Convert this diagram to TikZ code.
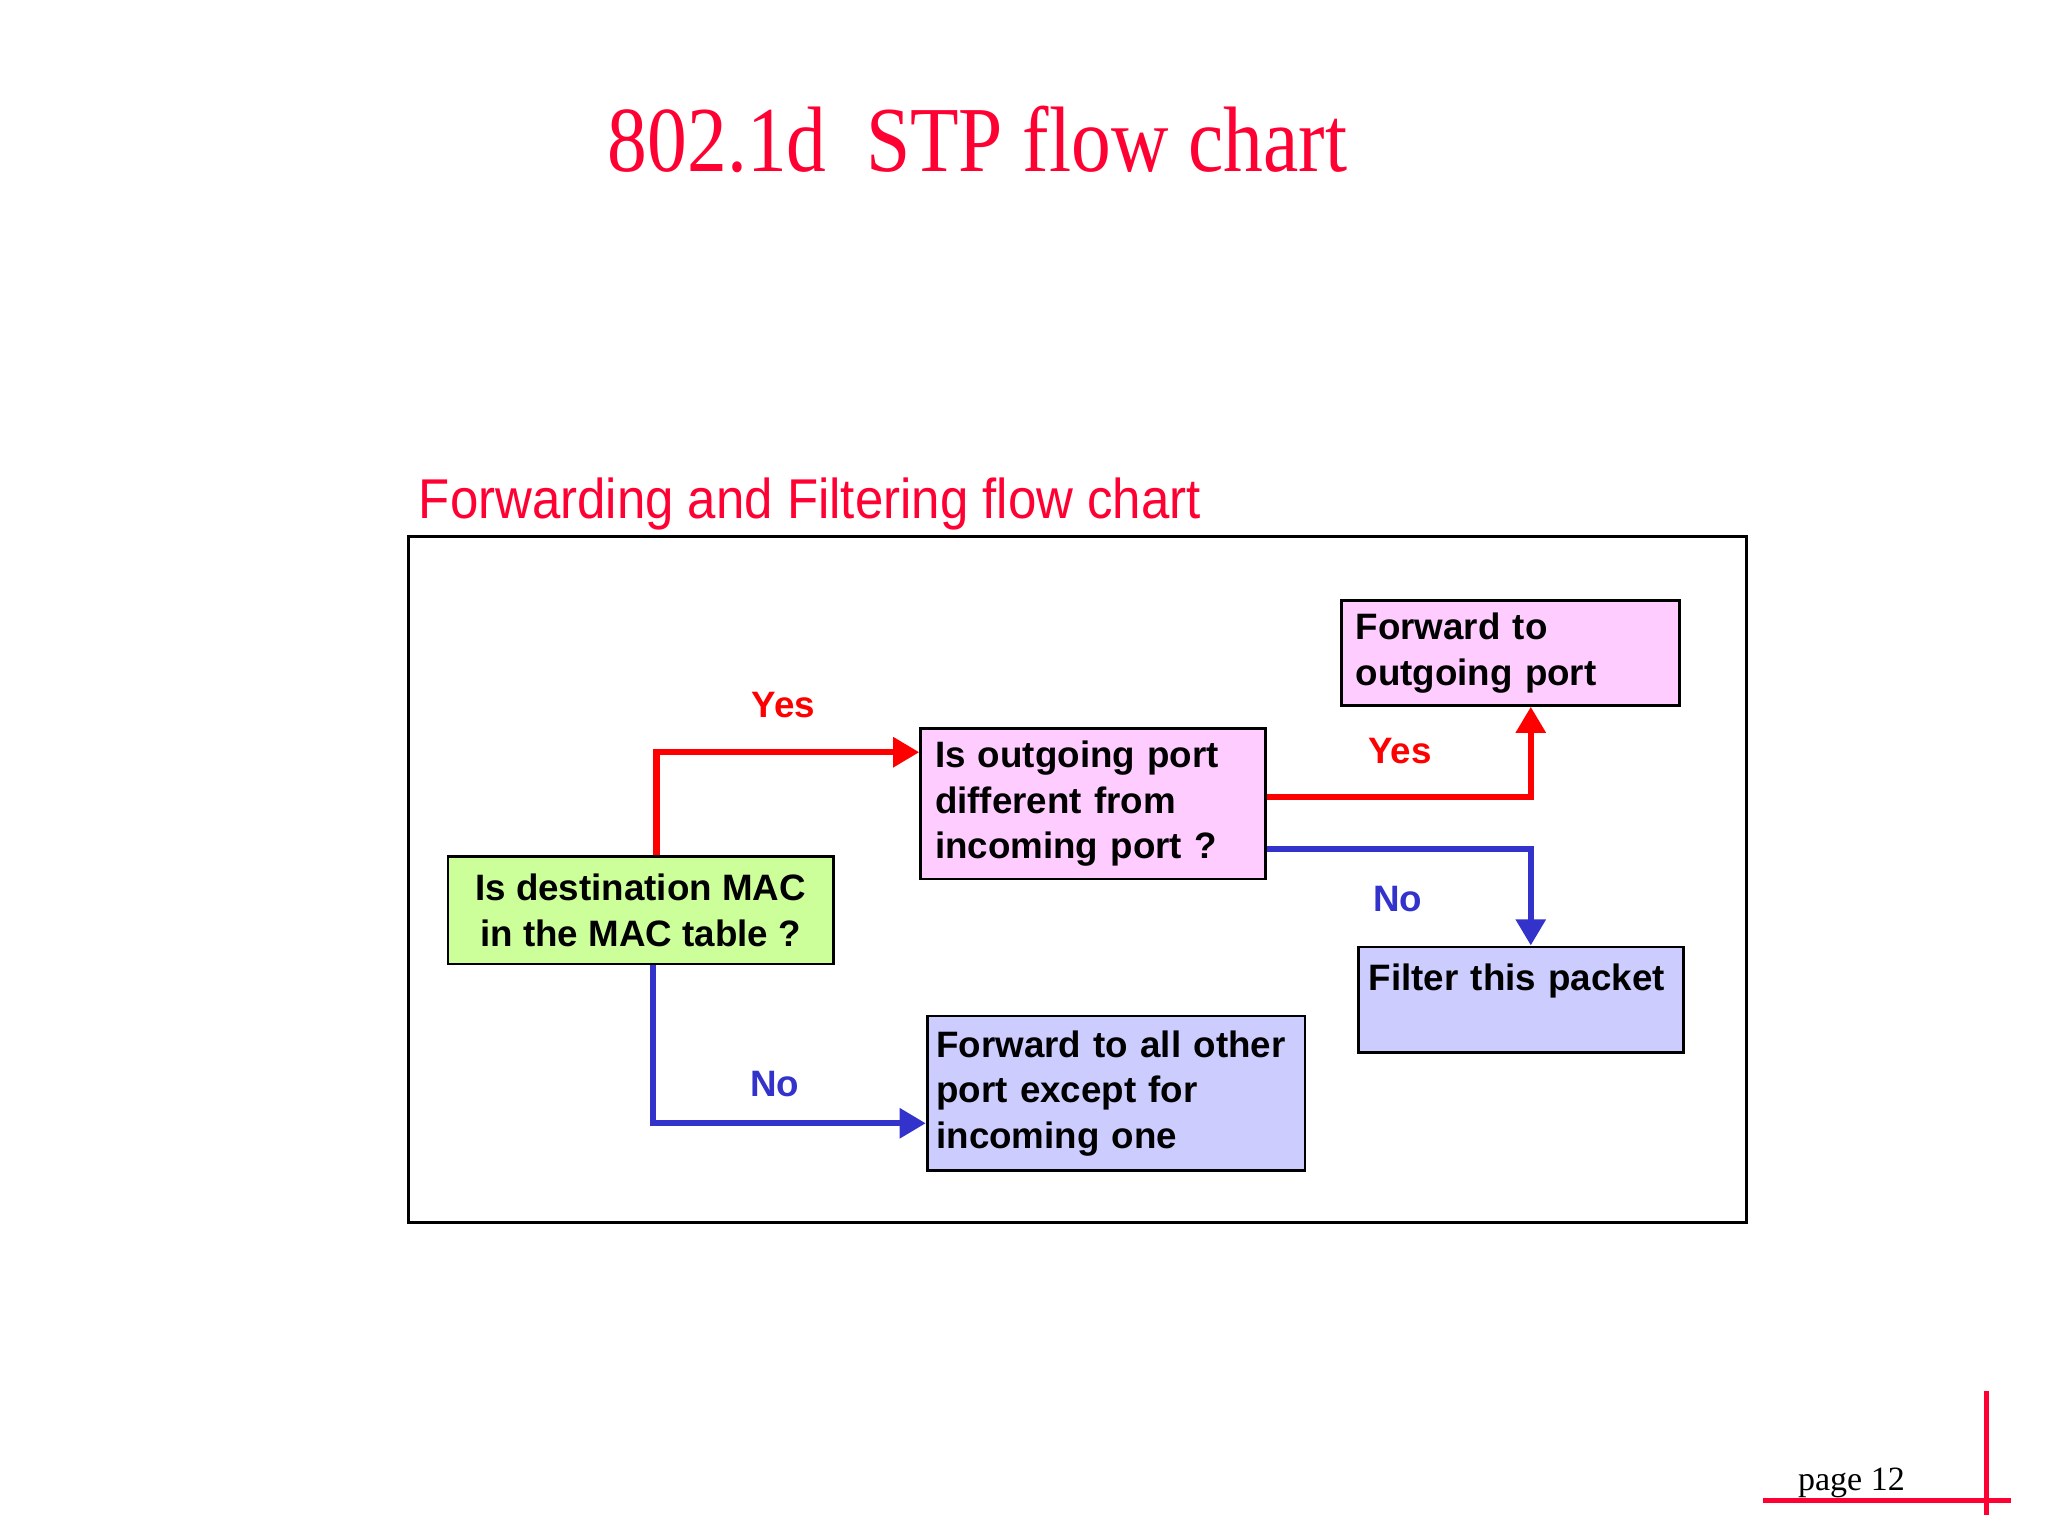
\documentclass[tikz,border=0pt]{standalone}
\usepackage{fontspec}
\setmainfont{Liberation Serif}
\setsansfont{Liberation Sans}
\usetikzlibrary{arrows.meta,calc}

\definecolor{titlered}{RGB}{255,0,51}
\definecolor{yesred}{RGB}{255,0,0}
\definecolor{noblue}{RGB}{51,51,204}
\definecolor{askgreen}{RGB}{204,255,153}
\definecolor{askpink}{RGB}{255,204,255}
\definecolor{actblue}{RGB}{204,204,255}

\tikzset{
  flowbox/.style={draw=black,line width=0.6pt,inner xsep=0.11cm,inner ysep=0pt,align=left,
    font=\sffamily\bfseries\fontsize{8}{9.9}\selectfont},
  yesline/.style={draw=yesred,line width=1.4pt,-{Triangle[length=0.2cm,width=0.22cm]}},
  noline/.style={draw=noblue,line width=1.4pt,-{Triangle[length=0.2cm,width=0.22cm]}},
  yeslabel/.style={text=yesred,font=\sffamily\bfseries\fontsize{8}{9.9}\selectfont},
  nolabel/.style={text=noblue,font=\sffamily\bfseries\fontsize{8}{9.9}\selectfont}
}

\begin{document}
\begin{tikzpicture}[x=0.01cm,y=-0.01cm]
\useasboundingbox (0,0) rectangle (1568,1176);

% Titles.
\node[anchor=base,text=titlered,font=\fontsize{17.3}{20}\selectfont] (title) at (748.5,131)
  {\scalebox{1}[1.17]{802.1d\ \ STP flow chart}};
\node[anchor=base west,inner sep=0pt,text=titlered,font=\sffamily\fontsize{11.1}{13}\selectfont] (subtitle) at (320,397)
  {\scalebox{1}[1.1]{Forwarding and Filtering flow chart}};

% Frame of the chart.
\draw[line width=0.7pt] (313,411) rectangle (1337,936);

% Define the boxes.
\node[flowbox,fill=askgreen,align=center,minimum width=2.95cm,minimum height=0.82cm] (A) at (490.5,697)
  {Is destination MAC\\in the MAC table ?};
\node[flowbox,fill=askpink,text width=2.42cm,minimum height=1.15cm] (B) at (837,615.5)
  {Is outgoing port\\different from\\incoming port ?};
\node[flowbox,fill=askpink,text width=2.37cm,minimum height=0.8cm] (C) at (1156.5,500)
  {Forward to\\outgoing port};
\node[flowbox,fill=actblue,inner xsep=0.08cm,text width=2.33cm,minimum height=0.81cm] (D) at (1164.5,765.5)
  {Filter this packet\\~};
\node[flowbox,fill=actblue,inner xsep=0.07cm,text width=2.75cm,minimum height=1.18cm] (E) at (854.5,837)
  {Forward to all other\\port except for\\incoming one};

% Connectors.
\draw[yesline] ([xshift=.12cm]A.north) |- ([yshift=-.19cm]B.north west);
\draw[noline] ([xshift=.095cm]A.south) |- ([yshift=-.23cm]E.west);
\draw[yesline] ([yshift=.055cm]B.east) -| ([xshift=.155cm]C.south);
\draw[noline] ([yshift=-.345cm]B.east) -| ([xshift=.075cm]D.north);

\node[yeslabel] (yesA) at (600,540) {Yes};
\node[nolabel] (noA) at (593,830) {No};
\node[yeslabel] (yesB) at (1072,575) {Yes};
\node[nolabel] (noB) at (1070,688) {No};

% Page mark.
\draw[titlered,line width=1.1pt] (1350,1149) -- (1540,1149);
\draw[titlered,line width=1.1pt] (1521,1065) -- (1521,1160);
\node[anchor=base west,inner sep=0pt,font=\fontsize{7.4}{9}\selectfont] (page) at (1376,1141) {page 12};

\end{tikzpicture}
\end{document}
